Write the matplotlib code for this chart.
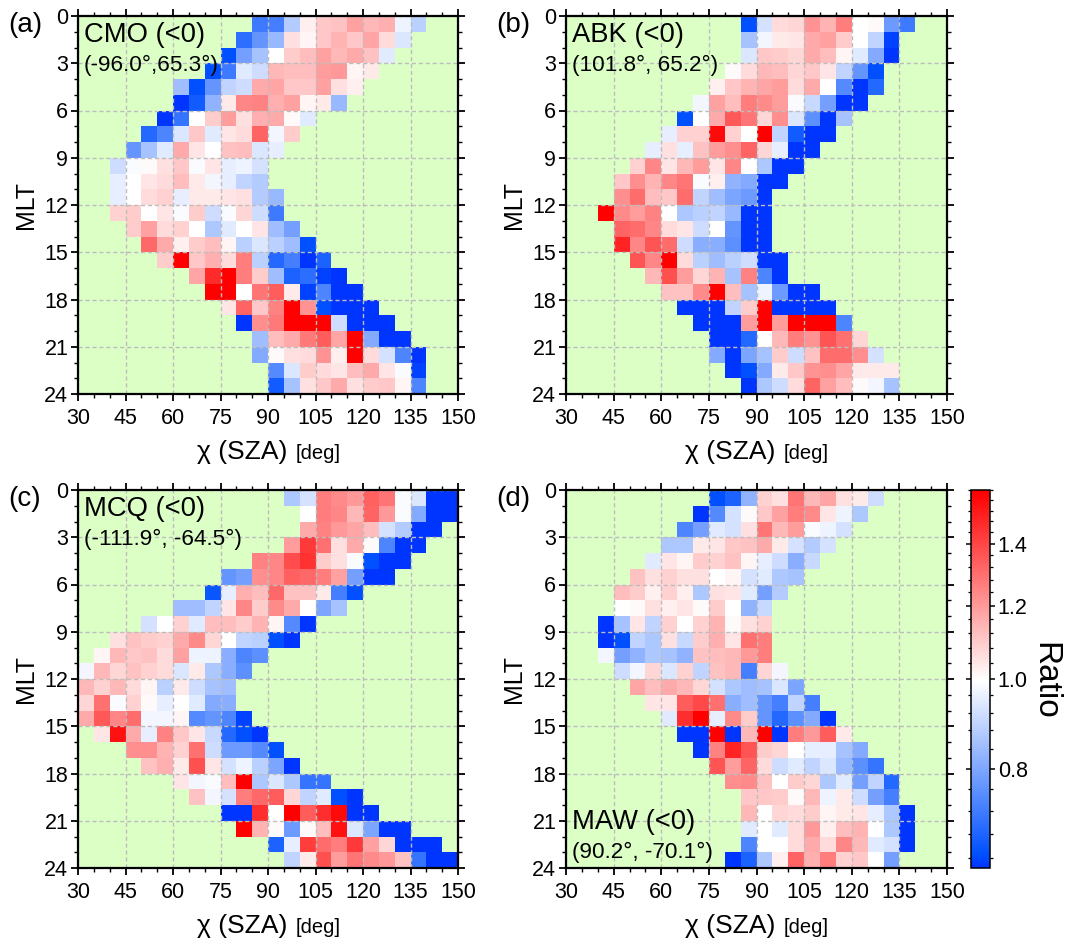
import numpy as np
import matplotlib
matplotlib.use("Agg")
import matplotlib.pyplot as plt
from matplotlib.colors import LinearSegmentedColormap, LogNorm
from matplotlib.ticker import FixedLocator, FixedFormatter, NullFormatter

plt.rcParams['font.family'] = ['Liberation Sans', 'DejaVu Sans']

sza_edges = np.arange(30, 155, 5)
mlt_edges = np.arange(0, 25, 1)

cmo_start = [11,10,9,8,6,6,5,4,3,2,2,2,2,3,4,5,7,8,9,10,11,11,12,12]
cmo_values = [
 [.72,.73,.88,1.03,1.11,1.12,1.19,1.14,1.16,.97,.89],
 [.70,.77,.84,1.06,1.02,1.11,1.15,1.11,1.18,1.07,.94],
 [.65,.79,.86,1.0,1.10,1.13,1.19,1.14,1.17,1.12,.95],
 [.65,.72,.95,.92,1.14,1.13,1.13,1.20,1.21,1.02,1.04],
 [.85,.65,.77,.90,.92,1.17,1.18,1.11,1.11,1.19,1.06,1.03],
 [.63,.67,.83,1.04,1.25,1.26,1.16,1.19,1.02,1.04,.84],
 [.63,.71,1.0,1.10,1.20,1.06,1.16,1.17,1.01,.95],
 [.69,.74,.94,1.11,.95,1.05,1.07,1.33,.98,1.10],
 [.77,.86,.95,1.17,1.05,1.0,1.12,1.13,.94,.96],
 [.92,.99,1.01,1.06,1.11,.99,1.05,.96,.97,.93],
 [.96,1.0,1.05,1.07,1.13,1.04,.98,.96,.90,.88],
 [.96,1.0,1.07,1.09,.96,1.04,1.04,1.05,1.06,.88,.84],
 [1.09,1.10,1.0,1.05,.99,1.10,.92,.99,1.08,.92,.72],
 [1.10,1.19,1.07,1.09,1.0,.87,.95,1.0,1.05,.85,.79],
 [1.32,1.17,1.03,1.10,1.13,1.02,.89,.94,.89,.85,.65],
 [1.10,1.60,1.11,1.16,1.07,1.27,.89,.69,.73,.63,.68],
 [1.18,1.48,1.60,1.27,1.10,.85,.68,.70,.64,.63],
 [1.60,1.60,1.0,1.29,1.35,1.04,.64,.74,.63,.63],
 [1.05,1.33,1.11,1.26,1.60,1.22,.65,.63,.63,.63],
 [.63,1.23,1.28,1.60,1.60,1.60,.92,.63,.63,.63],
 [.85,1.13,1.17,1.28,1.35,1.18,1.60,.81,.63,.63],
 [.81,1.01,1.06,1.07,1.22,1.03,1.60,1.07,.93,.74,.63],
 [.75,.94,1.10,1.07,1.05,1.13,1.17,1.05,.99,.64],
 [.67,.86,1.06,1.11,1.17,1.06,1.10,1.11,1.02,.74],
]

abk_start = [11,11,11,10,9,8,7,6,5,4,3,3,2,3,3,4,5,6,7,8,9,9,10,11]
abk_values = [
 [.65,.93,1.07,1.08,1.22,1.15,1.27,1.0,1.01,.78,.72],
 [.86,.98,1.04,1.05,1.17,1.19,1.10,1.0,.90,.64],
 [.94,1.11,1.10,1.08,1.17,1.13,1.02,.95,.81,.63],
 [1.01,1.07,1.14,1.13,1.08,1.11,1.05,.90,.77,.65],
 [1.03,1.11,1.15,1.18,1.20,1.07,1.17,1.0,.75,.63,.69],
 [.98,1.19,1.13,1.27,1.24,1.20,.99,.91,.79,.63,.63],
 [.65,1.0,1.17,1.36,1.29,1.08,1.23,.94,.76,.63,.86],
 [.96,1.09,1.09,1.57,1.09,1.0,1.60,.90,.67,.63,.63],
 [.96,1.06,.96,1.12,1.20,1.23,1.33,1.08,.96,.63,.63],
 [1.09,1.25,1.05,1.14,1.20,1.05,1.25,1.0,.87,.63,.63],
 [1.11,1.23,1.15,1.25,1.29,.99,1.03,.83,.81,.63,.63],
 [1.23,1.31,1.13,1.11,1.31,.90,.85,.80,.78,.63],
 [1.60,1.24,1.20,1.26,1.0,.87,.89,.90,.84,.63,.63],
 [1.33,1.31,1.25,1.07,1.05,.92,1.0,.77,.63,.63],
 [1.50,1.25,1.37,1.31,.92,.82,.82,.76,.63,.63],
 [1.37,1.25,1.60,1.07,.89,.85,.89,.92,.63,.63],
 [1.14,1.38,1.20,1.08,1.15,.86,1.26,.74,.63],
 [1.12,1.12,1.24,1.60,1.13,.86,.97,.78,.63,.63],
 [.63,.63,.63,.90,1.10,1.60,.63,.63,.63,.63],
 [.63,.63,.63,1.20,1.60,1.20,1.60,1.60,1.60,.74],
 [.63,.63,.69,1.0,1.14,1.27,1.22,1.37,1.30,1.08],
 [.81,.63,.80,.86,1.10,.92,1.12,1.31,1.31,1.23,.93],
 [.63,.65,.81,1.04,1.11,1.22,1.23,1.18,1.04,1.04,1.04],
 [.63,.87,.92,1.07,1.33,1.19,1.13,1.01,.98,.86],
]

mcq_start = [13,14,14,13,11,9,8,6,4,2,1,0,0,0,0,1,3,4,6,7,9,10,12,13]
mcq_values = [
 [.87,.93,1.27,1.24,1.21,1.34,1.29,.99,.94,.63,.63],
 [1.0,1.27,1.25,1.14,1.33,1.21,.99,.81,.63,.63],
 [1.17,1.26,1.21,1.18,1.13,.93,.88,.63,.63],
 [1.20,1.44,1.30,1.06,1.17,1.01,.74,.63,.63],
 [1.26,1.25,1.39,1.46,1.10,1.06,.99,.65,.63,.63],
 [.77,.79,1.23,1.25,1.34,1.32,1.27,1.19,.79,.63,.63],
 [.66,.96,1.16,1.13,1.32,1.12,1.12,1.04,.73,.65],
 [.85,.85,.90,1.05,1.25,1.10,1.24,1.17,1.0,.80,.86],
 [.93,1.0,1.09,.95,1.13,1.13,1.10,1.15,1.02,.75,.63],
 [1.06,1.12,1.10,1.09,1.17,1.24,1.08,1.0,.90,.89,.65,.63],
 [1.02,1.14,1.11,1.12,1.07,1.19,.97,.97,.82,.74,.76],
 [.98,1.14,1.08,1.12,1.09,1.07,.94,1.04,.87,.82,.76],
 [1.14,1.09,1.14,1.07,1.02,.89,1.04,.92,.86,.85],
 [1.08,1.30,.99,1.09,1.01,.96,1.0,.95,.81,.82],
 [1.17,1.36,1.25,1.31,.98,.98,1.02,.75,.77,.74,.64],
 [1.05,1.55,1.17,.96,1.26,1.11,1.05,.91,.69,.65,.63],
 [1.23,1.23,1.15,1.09,1.30,.92,.78,.78,.75,.65],
 [1.12,1.16,1.04,1.38,1.05,.93,.97,.89,.80,.63],
 [1.05,.98,.99,1.13,1.60,.87,.94,.87,.71,.71],
 [1.12,.98,.93,1.27,1.32,1.35,1.08,.90,.95,.65,.63],
 [.63,.63,1.47,1.0,1.60,1.35,1.47,1.57,.63,.63],
 [1.60,1.15,1.01,.78,1.01,1.13,1.55,.94,.80,.63,.63],
 [.68,.96,1.43,1.31,1.27,1.44,1.19,1.08,.63,.63,.63],
 [.90,1.04,1.38,1.20,1.29,1.24,1.21,1.12,.71,.63,.63],
]

maw_start = [9,8,7,6,5,4,3,3,2,2,2,3,4,5,6,7,8,9,10,11,11,11,11,10]
maw_values = [
 [.65,.68,.83,1.09,1.06,1.29,1.14,1.18,1.06,1.04,.92],
 [.63,.75,.93,1.01,1.11,1.19,1.27,1.24,1.05,.97,.87],
 [.74,.79,.95,.93,1.06,1.29,1.14,1.20,.99,.97,.93],
 [.87,.87,1.04,1.05,1.11,1.12,1.17,1.04,.93,.88,.93],
 [.95,1.05,1.02,1.10,1.09,1.12,1.02,.96,.92,.82,.91],
 [1.12,1.06,1.09,1.06,1.06,1.0,1.02,.93,.95,.87,.86],
 [1.13,1.10,1.03,1.09,1.03,.87,1.06,1.05,.95,.79,.88],
 [1.0,1.01,1.06,1.03,1.05,1.01,1.10,1.0,.83,.91],
 [.63,.86,1.05,.90,1.09,1.0,1.09,1.15,1.01,1.06,1.09],
 [.63,.65,.90,.87,1.06,.91,1.10,1.16,1.05,1.30,1.27],
 [.98,.79,.83,.87,.86,.83,1.12,1.13,1.14,1.21,1.27],
 [.92,.98,1.08,.94,1.09,.90,1.12,1.14,.73,1.08,.98],
 [1.18,1.13,1.17,1.14,1.08,.93,.87,.85,.86,.94,.80],
 [1.05,1.05,1.35,1.40,1.30,.82,.85,.77,.73,.90,.73],
 [.95,1.47,1.60,.96,1.24,1.10,.77,.69,.76,.81,.63],
 [.63,.63,1.60,.63,1.14,1.60,.63,1.27,1.21,1.35,1.04],
 [.63,1.26,1.50,1.37,1.10,1.08,1.0,.96,.96,.86,.81],
 [1.37,1.20,1.33,1.07,.92,.95,.90,.94,.84,.76,.71],
 [1.23,1.24,1.12,1.0,1.10,1.08,.87,.95,.79,.90,.69],
 [1.11,1.11,1.10,1.01,1.14,.97,1.04,.92,.79,.73],
 [1.14,1.0,1.08,1.07,1.10,1.02,1.04,1.05,.96,.87,.63],
 [.95,1.0,.95,1.07,1.21,1.03,1.13,1.15,1.0,.87,.63],
 [.74,1.0,1.0,1.07,1.17,1.07,1.25,1.14,.95,.93,.63],
 [.63,.68,.87,1.03,1.33,1.16,1.27,1.09,1.11,1.0,.79],
]

panel_tags = ['(a)', '(b)', '(c)', '(d)']
station_names = ['CMO (<0)', 'ABK (<0)', 'MCQ (<0)', 'MAW (<0)']
station_coords = ['(-96.0°,65.3°)', '(101.8°, 65.2°)', '(-111.9°, -64.5°)', '(90.2°, -70.1°)']
panel_starts = [cmo_start, abk_start, mcq_start, maw_start]
panel_values = [cmo_values, abk_values, mcq_values, maw_values]
x_ticks = [30, 45, 60, 75, 90, 105, 120, 135, 150]
y_ticks = [0, 3, 6, 9, 12, 15, 18, 21, 24]
cbar_major = [0.8, 1.0, 1.2, 1.4]
cbar_minor = [0.64, 0.68, 0.72, 0.76, 0.84, 0.88, 0.92, 0.96, 1.04, 1.08, 1.12, 1.16,
              1.24, 1.28, 1.32, 1.36, 1.44, 1.48, 1.52, 1.56, 1.6]

W, H = 1065, 940
fig = plt.figure(figsize=(W / 100, H / 100), dpi=100)

def box(l, t, r, b):
    return [l / W, 1 - b / H, (r - l) / W, (b - t) / H]

boxes = [box(78, 16, 458, 394), box(566, 16, 947, 394),
         box(78, 490, 458, 868), box(566, 490, 947, 868)]

cmap = LinearSegmentedColormap.from_list(
    'ratio', [(0.0, (0, 45/255, 1)), (0.04, (0, 80/255, 1)), (0.5, (1, 1, 1)), (1.0, (1, 0, 0))], N=512)
norm = LogNorm(vmin=1 / 1.6, vmax=1.6)
green = '#DCFFC6'
grid_col = '#BDBDBD'

for k, pos in enumerate(boxes):
    ax = fig.add_axes(pos)
    grid = np.full((24, 24), np.nan)
    for row, (s, vals) in enumerate(zip(panel_starts[k], panel_values[k])):
        grid[row, s:s + len(vals)] = vals
    mesh = ax.pcolormesh(sza_edges, mlt_edges, np.ma.masked_invalid(grid), cmap=cmap, norm=norm,
                         edgecolors='none', antialiased=False, zorder=1)
    ax.set_facecolor(green)
    ax.set_xlim(30, 150)
    ax.set_ylim(24, 0)
    ax.set_xticks(x_ticks)
    ax.set_yticks(y_ticks)
    ax.set_xticks(np.arange(30, 155, 5), minor=True)
    ax.set_yticks(np.arange(0, 25, 1), minor=True)
    ax.tick_params(which='major', direction='out', length=5, width=1.3, labelsize=15.5,
                   top=True, right=True, bottom=True, left=True, pad=2)
    ax.tick_params(axis='x', which='major', pad=5)
    ax.tick_params(which='minor', direction='out', length=2.6, width=1.0,
                   top=True, right=True, bottom=True, left=True)
    ax.grid(True, which='major', color=grid_col, ls=(0, (3, 2)), lw=1.0, zorder=3)
    ax.set_axisbelow(False)
    for sp in ax.spines.values():
        sp.set_linewidth(1.6)
        sp.set_zorder(5)
    ax.set_ylabel('MLT', fontsize=18, labelpad=4.5)
    l, t = pos[0] * W, (1 - pos[1] - pos[3]) * H
    fig.text((l + 119) / W, 1 - (t + 443) / H, 'χ (SZA)', fontsize=19, ha='left', va='baseline')
    fig.text((l + 218) / W, 1 - (t + 443) / H, '[deg]', fontsize=14.5, ha='left', va='baseline')
    fig.text((l - 70) / W, 1 - (t + 9) / H, panel_tags[k], fontsize=20, ha='left', va='center')
    if k < 3:
        ny, cy = t + 19, t + 49
    else:
        ny, cy = t + 332, t + 362
    fig.text((l + 6) / W, 1 - ny / H, station_names[k], fontsize=19.7, ha='left', va='center')
    fig.text((l + 6) / W, 1 - cy / H, station_coords[k], fontsize=16.2, ha='left', va='center')

cax = fig.add_axes(box(971, 490, 990, 868))
cb = fig.colorbar(mesh, cax=cax, orientation='vertical')
cb.solids.set_edgecolor('face')
cax.yaxis.set_major_locator(FixedLocator(cbar_major))
cax.yaxis.set_major_formatter(FixedFormatter(['0.8', '1.0', '1.2', '1.4']))
cax.yaxis.set_minor_locator(FixedLocator(cbar_minor))
cax.yaxis.set_minor_formatter(NullFormatter())
cax.tick_params(which='major', direction='out', length=3.6, width=1.1, labelsize=15.5, left=True, right=True, pad=2)
cax.tick_params(which='minor', direction='out', length=2, width=0.9, left=True, right=True)
for sp in cax.spines.values():
    sp.set_linewidth(1.1)
fig.text(1045 / W, 1 - 681 / H, 'Ratio', fontsize=24, rotation=270, ha='center', va='center')

fig.savefig('out.png', dpi=100, facecolor='white')
